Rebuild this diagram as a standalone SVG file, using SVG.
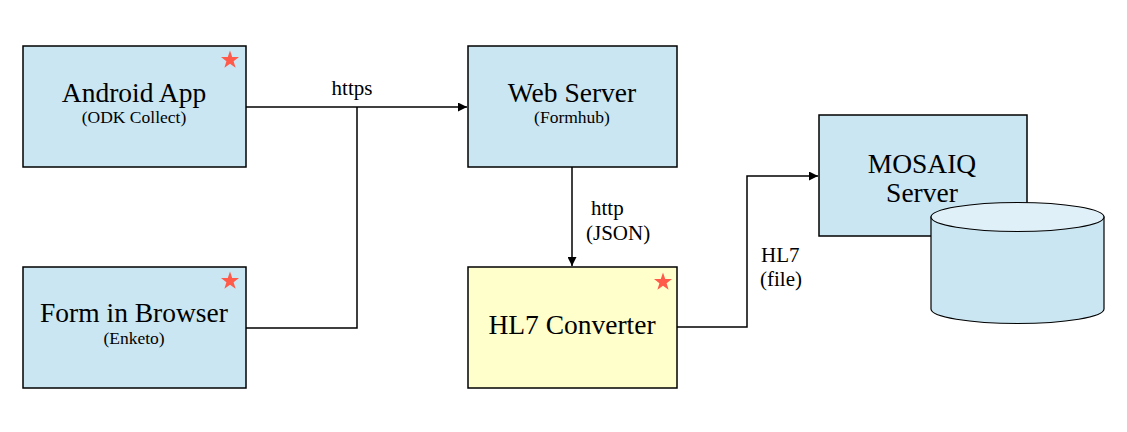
<svg xmlns="http://www.w3.org/2000/svg" xmlns:xlink="http://www.w3.org/1999/xlink" width="1127" height="432" viewBox="0 0 1127 432">
<style>
.box{fill:#CAE6F2;stroke:#000;stroke-width:1.5}
.ybox{fill:#FFFFCC;stroke:#000;stroke-width:1.5}
text{font-family:'Liberation Serif','Times New Roman',Times,serif;fill:#000}
.t{text-anchor:middle}
.big{font-size:27.5px}
.small{font-size:17.5px}
.lbl{font-size:21px}
.conn{fill:none;stroke:#000;stroke-width:1.5}
.star{fill:#FF5A4A}
</style>
<defs>
<polygon id="star" class="star" points="0,-9.5 2.2,-3 9,-2.9 3.6,1.2 5.6,7.7 0,3.8 -5.6,7.7 -3.6,1.2 -9,-2.9 -2.2,-3"/>
<marker id="arr" viewBox="0 0 10 10" refX="10" refY="5" markerWidth="9" markerHeight="9" orient="auto" markerUnits="userSpaceOnUse">
<path d="M0,0 L10,5 L0,10 z" fill="#000"/>
</marker>
</defs>
<rect width="1127" height="432" fill="#fff"/>
<g id="connectors">
<path class="conn" d="M246,107 L467,107" marker-end="url(#arr)"/>
<path class="conn" d="M246,328 L357,328 L357,107"/>
<path class="conn" d="M572,167 L572,266" marker-end="url(#arr)"/>
<path class="conn" d="M677,327 L747,327 L747,176 L818,176" marker-end="url(#arr)"/>
<text class="lbl" x="352" y="95" text-anchor="middle">https</text>
<text class="lbl" x="591" y="215">http</text>
<text class="lbl" x="586" y="240">(JSON)</text>
<text class="lbl" x="761" y="262">HL7</text>
<text class="lbl" x="760" y="286">(file)</text>
</g>
<g id="android">
<rect class="box" x="23" y="46" width="223" height="121"/>
<text class="t big" x="134" y="102">Android App</text>
<text class="t small" x="134" y="123">(ODK Collect)</text>
<use xlink:href="#star" x="230" y="60"/>
</g>
<g id="browser">
<rect class="box" x="23" y="267" width="223" height="121"/>
<text class="t big" x="134" y="322">Form in Browser</text>
<text class="t small" x="134" y="344">(Enketo)</text>
<use xlink:href="#star" x="230" y="281"/>
</g>
<g id="webserver">
<rect class="box" x="468" y="46" width="209" height="121"/>
<text class="t big" x="572" y="102">Web Server</text>
<text class="t small" x="572" y="123">(Formhub)</text>
</g>
<g id="converter">
<rect class="ybox" x="468" y="267" width="209" height="121"/>
<text class="t big" x="572" y="334">HL7 Converter</text>
<use xlink:href="#star" x="663" y="282"/>
</g>
<g id="mosaiq">
<rect class="box" x="819" y="115" width="208" height="121"/>
<text class="t big" x="922" y="173">MOSAIQ</text>
<text class="t big" x="922" y="202">Server</text>
</g>
<g id="database">
<path d="M931,217 L931,309 A86.5,14.5 0 0 0 1104,309 L1104,217 Z" fill="#CAE6F2" stroke="#000" stroke-width="1.2"/>
<ellipse cx="1017.5" cy="217" rx="86.5" ry="14.5" fill="#E0F0F8" stroke="#000" stroke-width="1.2"/>
</g>
</svg>
